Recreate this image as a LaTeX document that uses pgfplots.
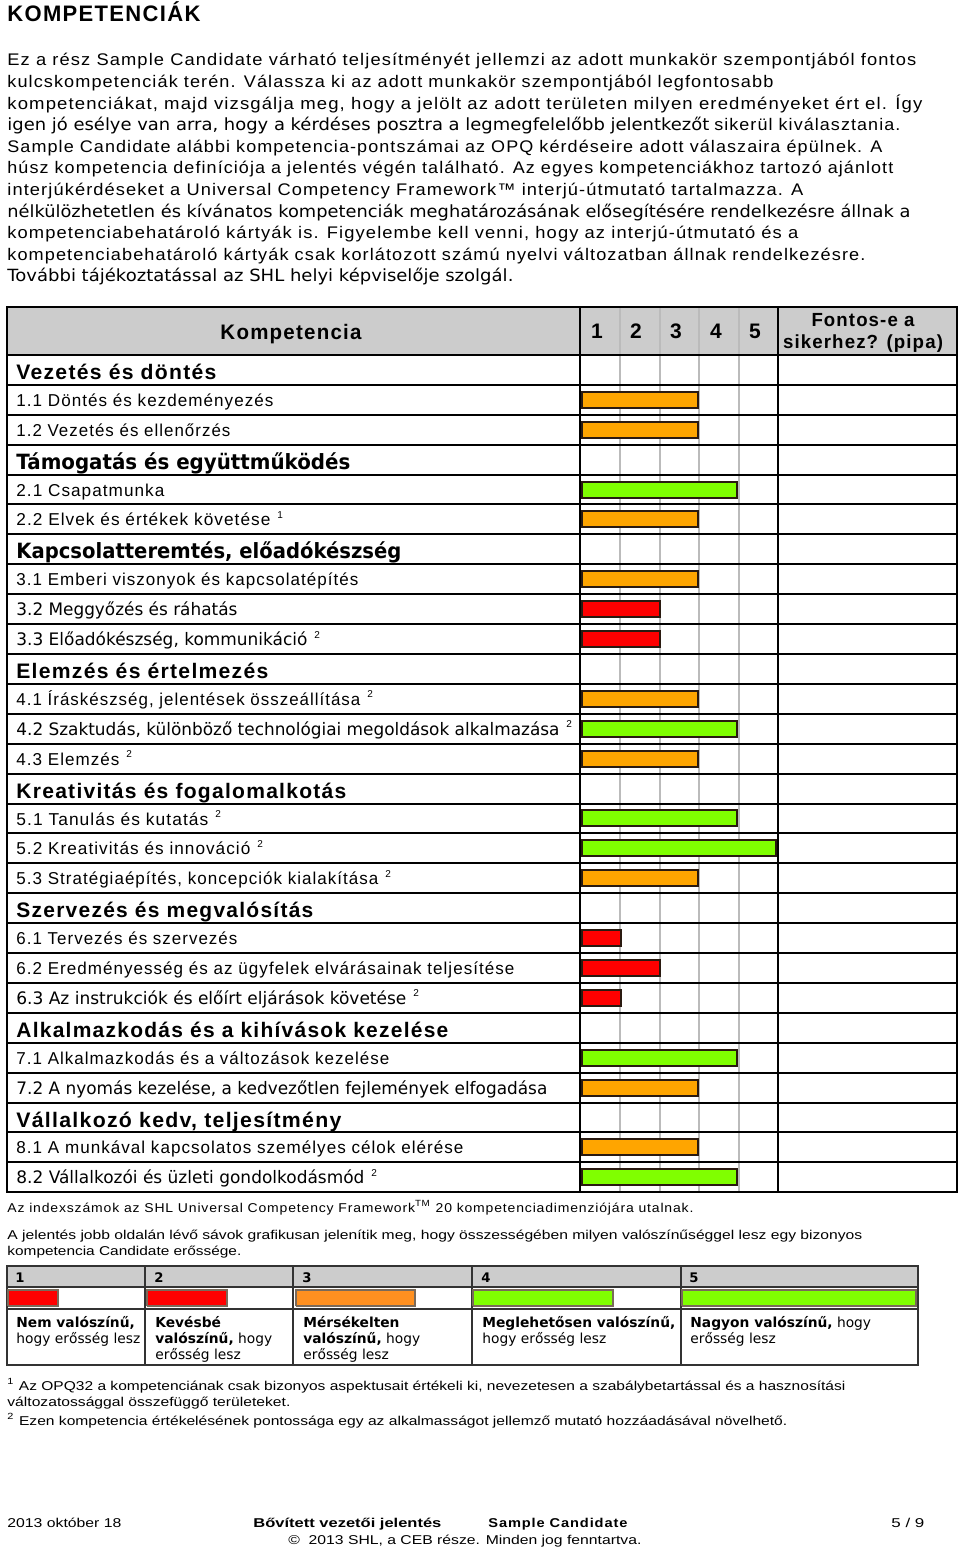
\documentclass[border=0pt]{standalone}
\usepackage{fontspec}
\usepackage{graphicx}
\usepackage{pgfplots}
\pgfplotsset{compat=1.18}
\setmainfont{Liberation Sans}
\newfontfamily\ar[LetterSpace=6]{Liberation Sans}
\newfontfamily\vd{DejaVu Sans}
\definecolor{barorange}{HTML}{FFA500}
\definecolor{barred}{HTML}{FF0000}
\definecolor{bargreen}{HTML}{80FF00}
\definecolor{lgorange}{HTML}{FF9020}
\definecolor{hdrgray}{HTML}{CCCCCC}
\definecolor{gridgray}{HTML}{BBBBBB}
\definecolor{lgborder}{HTML}{7A6A5A}
\definecolor{barborder}{HTML}{2A1A10}
\newlength\pxu \setlength\pxu{0.5pt}
\newcommand\fitpx[2]{\resizebox{#1\pxu}{\height}{#2}}
\newcommand\sect[3]{\node[anchor=base west,inner sep=0pt] at (16,{355+29.9*#1+24.5}) {\fitpx{#2}{\fontsize{10.5}{12}\selectfont\bfseries #3}};}
\newcommand\itm[3]{\node[anchor=base west,inner sep=0pt] at (16,{355+29.9*#1+21.5}) {\fitpx{#2}{\fontsize{8.6}{10}\selectfont #3}};}
\newcommand\fn[3]{\node[anchor=base west,inner sep=0pt] at (#1,{355+29.9*#2+14}) {\fontsize{5}{6}\selectfont #3};}
\newcommand\bline[3]{\node[anchor=base west,inner sep=0pt] at (7,#1) {\fitpx{#2}{\fontsize{8.4}{10}\selectfont #3}};}
\newcommand\nline[4]{\node[anchor=base west,inner sep=0pt] at (#1,#2) {\fitpx{#3}{\fontsize{6.4}{8}\selectfont #4}};}
\begin{document}
\begin{tikzpicture}
\path[use as bounding box] (0pt,0pt) rectangle (480pt,-775pt);
\begin{scope}[x=0.5pt,y=-0.5pt]
% title
\node[anchor=base west,inner sep=0pt] at (7,22) {\fitpx{193}{\fontsize{11.2}{13}\selectfont\bfseries\ar KOMPETENCIÁK}};
% body text
\bline{66}{909}{\ar Ez a rész Sample Candidate várható teljesítményét jellemzi az adott munkakör szempontjából fontos}
\bline{87.6}{766}{\ar kulcskompetenciák terén. Válassza ki az adott munkakör szempontjából legfontosabb}
\bline{109.2}{915}{\ar kompetenciákat, majd vizsgálja meg, hogy a jelölt az adott területen milyen eredményeket ért el. Így}
\bline{130.8}{893}{{\vd igen jó esélye van arra, hogy a kérdéses posztra a legmegfelelőbb jelentkezőt} {\ar sikerül kiválasztania.}}
\bline{152.4}{875}{\ar Sample Candidate alábbi kompetencia-pontszámai az OPQ kérdéseire adott válaszaira épülnek. A}
\bline{174}{886}{\ar húsz kompetencia definíciója a jelentés végén található. Az egyes kompetenciákhoz tartozó ajánlott}
\bline{195.6}{796}{\ar interjúkérdéseket a Universal Competency Framework™ interjú-útmutató tartalmazza. A}
\bline{217.2}{903}{\vd nélkülözhetetlen és kívánatos kompetenciák meghatározásának elősegítésére rendelkezésre állnak a}
\bline{238.8}{791}{\ar kompetenciabehatároló kártyák is. Figyelembe kell venni, hogy az interjú-útmutató és a}
\bline{260.4}{858}{\ar kompetenciabehatároló kártyák csak korlátozott számú nyelvi változatban állnak rendelkezésre.}
\bline{282}{506}{\vd További tájékoztatással az SHL helyi képviselője szolgál.}
% table background
\fill[hdrgray] (7,307) rectangle (957,355);
\foreach \gx in {620,660,699,739} \draw[gridgray,line width=0.6pt] (\gx,307) -- (\gx,1192.2);
\foreach \k in {1,...,27} \draw[black,line width=1pt] (7,{355+29.9*\k}) -- (957,{355+29.9*\k});
\draw[black,line width=1pt] (7,355) -- (957,355);
\draw[black,line width=1pt] (580,307) -- (580,1192.2);
\draw[black,line width=1pt] (778,307) -- (778,1192.2);
\draw[black,line width=1.2pt] (7,307) rectangle (957,1192.2);
% header text
\node[anchor=base,inner sep=0pt] at (291,340) {\fitpx{141}{\fontsize{10.5}{12}\selectfont\bfseries\ar Kompetencia}};
\foreach \n/\cx in {1/597,2/636,3/676,4/716,5/755}
  \node[anchor=base,inner sep=0pt] at (\cx,339) {\fontsize{10.5}{12}\selectfont\bfseries \n};
\node[anchor=base,inner sep=0pt] at (863,327) {\fitpx{103}{\fontsize{9.5}{11}\selectfont\bfseries\ar Fontos-e a}};
\node[anchor=base,inner sep=0pt] at (863,349) {\fitpx{160}{\fontsize{9.5}{11}\selectfont\bfseries\ar sikerhez? (pipa)}};
% row labels
\sect{0}{200}{\ar Vezetés és döntés}
\itm{1}{257}{\ar 1.1 Döntés és kezdeményezés}
\itm{2}{214}{\ar 1.2 Vezetés és ellenőrzés}
\sect{3}{334}{\vd Támogatás és együttműködés}
\itm{4}{148}{\ar 2.1 Csapatmunka}
\itm{5}{254}{\ar 2.2 Elvek és értékek követése}\fn{277}{5}{1}
\sect{6}{385}{\vd Kapcsolatteremtés, előadókészség}
\itm{7}{342}{\ar 3.1 Emberi viszonyok és kapcsolatépítés}
\itm{8}{221}{\vd 3.2 Meggyőzés és ráhatás}
\itm{9}{291}{\vd 3.3 Előadókészség, kommunikáció}\fn{314}{9}{2}
\sect{10}{252}{\ar Elemzés és értelmezés}
\itm{11}{344}{\ar 4.1 Íráskészség, jelentések összeállítása}\fn{367}{11}{2}
\itm{12}{543}{\vd 4.2 Szaktudás, különböző technológiai megoldások alkalmazása}\fn{566}{12}{2}
\itm{13}{103}{\ar 4.3 Elemzés}\fn{126}{13}{2}
\sect{14}{330}{\ar Kreativitás és fogalomalkotás}
\itm{15}{192}{\ar 5.1 Tanulás és kutatás}\fn{215}{15}{2}
\itm{16}{234}{\ar 5.2 Kreativitás és innováció}\fn{257}{16}{2}
\itm{17}{362}{\ar 5.3 Stratégiaépítés, koncepciók kialakítása}\fn{385}{17}{2}
\sect{18}{297}{\ar Szervezés és megvalósítás}
\itm{19}{221}{\ar 6.1 Tervezés és szervezés}
\itm{20}{498}{\ar 6.2 Eredményesség és az ügyfelek elvárásainak teljesítése}
\itm{21}{390}{\vd 6.3 Az instrukciók és előírt eljárások követése}\fn{413}{21}{2}
\sect{22}{432}{\ar Alkalmazkodás és a kihívások kezelése}
\itm{23}{373}{\ar 7.1 Alkalmazkodás és a változások kezelése}
\itm{24}{531}{\vd 7.2 A nyomás kezelése, a kedvezőtlen fejlemények elfogadása}
\sect{25}{325}{\ar Vállalkozó kedv, teljesítmény}
\itm{26}{447}{\ar 8.1 A munkával kapcsolatos személyes célok elérése}
\itm{27}{348}{\vd 8.2 Vállalkozói és üzleti gondolkodásmód}\fn{371}{27}{2}
% notes below table
\nline{7}{1212}{686}{\ar Az indexszámok az SHL Universal Competency Framework\textsuperscript{TM} 20 kompetenciadimenziójára utalnak.}
\nline{7}{1239}{855}{A jelentés jobb oldalán lévő sávok grafikusan jelenítik meg, hogy összességében milyen valószínűséggel lesz egy bizonyos}
\nline{7}{1255}{234}{kompetencia Candidate erőssége.}
% legend table
\fill[hdrgray] (7,1266) rectangle (918,1287);
\draw[black!80,line width=0.7pt] (7,1287) -- (918,1287);
\draw[black!80,line width=0.7pt] (7,1309) -- (918,1309);
\foreach \lx in {145,293,472,681} \draw[black!80,line width=0.7pt] (\lx,1266) -- (\lx,1365);
\draw[black!80,line width=0.9pt] (7,1266) rectangle (918,1365);
\foreach \n/\lx in {1/15,2/154,3/302,4/481,5/689}
  \node[anchor=base west,inner sep=0pt] at (\lx,1282) {\fontsize{6.6}{8}\selectfont\bfseries\vd \n};
\begin{scope}[every node/.style={anchor=base west,inner sep=0pt,font=\vd\fontsize{6.9}{8}\selectfont}]
\node at (16,1327) {\textbf{Nem valószínű,}};
\node at (16,1343) {hogy erősség lesz};
\node at (155,1327) {\textbf{Kevésbé}};
\node at (155,1343) {\textbf{valószínű,} hogy};
\node at (155,1359) {erősség lesz};
\node at (303,1327) {\textbf{Mérsékelten}};
\node at (303,1343) {\textbf{valószínű,} hogy};
\node at (303,1359) {erősség lesz};
\node at (482,1327) {\textbf{Meglehetősen valószínű,}};
\node at (482,1343) {hogy erősség lesz};
\node at (690,1327) {\textbf{Nagyon valószínű,} hogy};
\node at (690,1343) {erősség lesz};
\end{scope}
% footnotes
\nline{7}{1390}{838}{\textsuperscript{1} Az OPQ32 a kompetenciának csak bizonyos aspektusait értékeli ki, nevezetesen a szabálybetartással és a hasznosítási}
\nline{7}{1406}{283}{változatossággal összefüggő területeket.}
\nline{7}{1425}{780}{\textsuperscript{2} Ezen kompetencia értékelésének pontossága egy az alkalmasságot jellemző mutató hozzáadásával növelhető.}
% footer
\nline{7}{1527}{114}{2013 október 18}
\nline{253}{1527}{188}{\bfseries Bővített vezetői jelentés}
\nline{488}{1527}{139}{\bfseries\ar Sample Candidate}
\nline{891}{1527}{33}{5 / 9}
\nline{288}{1544}{353}{©\ \ 2013 SHL, a CEB része. Minden jog fenntartva.}
\end{scope}
% competency bars
\begin{axis}[at={(291pt,-177.5pt)}, anchor=north west, scale only axis,
  width=97pt, height=418.6pt, xmin=0, xmax=5, ymin=-0.5, ymax=27.5,
  y dir=reverse, hide axis, clip=false]
\addplot[xbar, bar width=8pt, bar shift=0pt, fill=barorange, draw=barborder, line width=1pt]
  coordinates {(3,1) (3,2) (3,5) (3,7) (3,11) (3,13) (3,17) (3,24) (3,26)};
\addplot[xbar, bar width=8pt, bar shift=0pt, fill=barred, draw=barborder, line width=1pt]
  coordinates {(2,8) (2,9) (1,19) (2,20) (1,21)};
\addplot[xbar, bar width=8pt, bar shift=0pt, fill=bargreen, draw=barborder, line width=1pt]
  coordinates {(4,4) (4,12) (4,15) (5,16) (4,23) (4,27)};
\end{axis}
% legend swatches
\begin{axis}[at={(0pt,-653pt)}, anchor=south west, scale only axis,
  width=480pt, height=8pt, xmin=0, xmax=960, ymin=0, ymax=1, hide axis, clip=false]
\addplot[fill=barred, draw=lgborder, line width=0.6pt] coordinates {(8,0) (58,0) (58,1) (8,1) (8,0)};
\addplot[fill=barred, draw=lgborder, line width=0.6pt] coordinates {(147,0) (227,0) (227,1) (147,1) (147,0)};
\addplot[fill=lgorange, draw=lgborder, line width=0.6pt] coordinates {(296,0) (415,0) (415,1) (296,1) (296,0)};
\addplot[fill=bargreen, draw=lgborder, line width=0.6pt] coordinates {(473,0) (613,0) (613,1) (473,1) (473,0)};
\addplot[fill=bargreen, draw=lgborder, line width=0.6pt] coordinates {(682,0) (916,0) (916,1) (682,1) (682,0)};
\end{axis}
\end{tikzpicture}
\end{document}
